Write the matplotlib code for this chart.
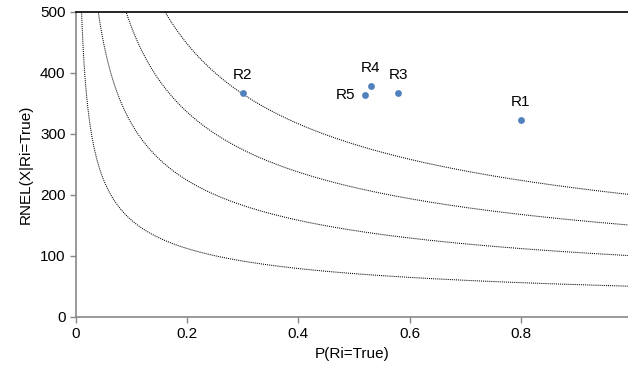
import matplotlib.pyplot as plt
import numpy as np

plt.rcParams['font.family'] = ['Liberation Sans', 'DejaVu Sans']

# Requirement points
labels = ['R1', 'R2', 'R3', 'R4', 'R5']
p_true = [0.80, 0.30, 0.58, 0.53, 0.52]
rnel = [322, 367, 366, 378, 364]

# iso-risk curves: RNEL = c / sqrt(P)
levels = [50, 100, 150, 200]

fig = plt.figure(figsize=(6.28, 3.78), dpi=100)
ax = fig.add_axes([0.121, 0.162, 0.879, 0.807])

xs = np.linspace(0.001, 1.0, 2000)
for c in levels:
    ax.plot(xs, c / np.sqrt(xs), color='black', linestyle=(0, (1, 1)),
            linewidth=0.75, zorder=2)

ax.scatter(p_true, rnel, s=24, color='#4F81BD', zorder=3, linewidths=0)

# label placement like Excel data labels
offsets = {'R1': (0, 8, 'center', 'bottom'),
           'R2': (0, 8, 'center', 'bottom'),
           'R3': (0, 8, 'center', 'bottom'),
           'R4': (0, 8, 'center', 'bottom'),
           'R5': (-7, 0, 'right', 'center')}
for lab, x, y in zip(labels, p_true, rnel):
    dx, dy, ha, va = offsets[lab]
    ax.annotate(lab, (x, y), xytext=(dx, dy), textcoords='offset points',
                ha=ha, va=va, fontsize=11, color='black')

ax.set_xlim(0, 0.993)
ax.set_ylim(0, 500)
ax.set_xticks([0, 0.2, 0.4, 0.6, 0.8])
ax.set_xticklabels(['0', '0.2', '0.4', '0.6', '0.8'])
ax.set_yticks([0, 100, 200, 300, 400, 500])

ax.spines['right'].set_visible(False)
ax.spines['top'].set_color('black')
ax.spines['top'].set_linewidth(1.2)
for side in ['left', 'bottom']:
    ax.spines[side].set_color('#888888')
    ax.spines[side].set_linewidth(1.2)

ax.tick_params(axis='both', colors='#888888', labelcolor='black',
               labelsize=11, length=4, width=1)

ax.set_xlabel('P(Ri=True)', fontsize=11, labelpad=4)
ax.set_ylabel('RNEL(X|Ri=True)', fontsize=11, labelpad=5)

fig.savefig('out.png', dpi=100)
